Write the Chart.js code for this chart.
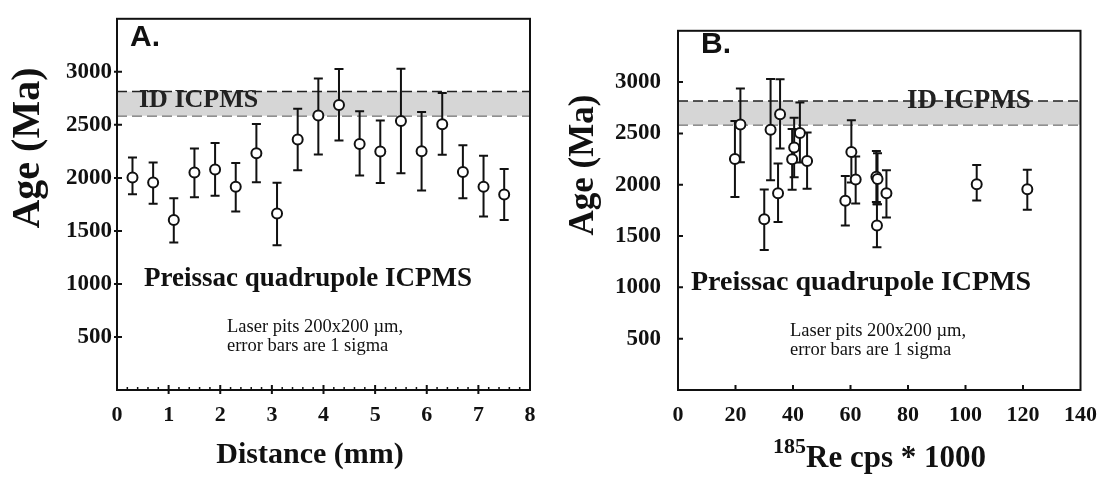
<!DOCTYPE html>
<html>
<head>
<meta charset="utf-8">
<script src="https://cdn.jsdelivr.net/npm/chart.js@4.4.1/dist/chart.umd.min.js"></script>
<style>
  html, body { margin: 0; padding: 0; background: #fff; }
  #wrap { position: relative; width: 1109px; height: 477px; }
  canvas { position: absolute; top: 0; }
  #chartA { left: 0; }
  #chartB { left: 560px; }
</style>
</head>
<body>
<div id="wrap">
  <canvas id="chartA" width="560" height="477"></canvas>
  <canvas id="chartB" width="549" height="477"></canvas>
</div>
<script>
// spot data (same 19 laser pits in both panels)
var distanceMm = [0.3, 0.7, 1.1, 1.5, 1.9, 2.3, 2.7, 3.1, 3.5, 3.9, 4.3, 4.7, 5.1, 5.5, 5.9, 6.3, 6.7, 7.1, 7.5];
var reCps = [103.9, 121.5, 69.2, 61.8, 69.0, 72.5, 44.9, 30.0, 40.4, 21.7, 35.5, 60.3, 39.7, 32.2, 19.8, 42.4, 69.4, 34.8, 58.2];
var ageMa = [2004, 1957, 1602, 2050, 2078, 1917, 2232, 1664, 2362, 2588, 2687, 2319, 2248, 2536, 2251, 2505, 2056, 1917, 1843];
var ageHigh = [2192, 2146, 1809, 2276, 2328, 2140, 2508, 1954, 2653, 2937, 3027, 2628, 2542, 3030, 2622, 2801, 2307, 2208, 2084];
var ageLow = [1846, 1756, 1391, 1818, 1831, 1682, 1960, 1364, 2072, 2220, 2353, 2022, 1951, 2044, 1880, 2217, 1809, 1636, 1602];

// ID ICPMS reference age band
var idBand = [2585, 2815];

// axis ranges / tick steps
var distRange = [0, 8, 1];
var reRange = [0, 140, 20];
var ageRange = [0, 3500, 500];

var SERIF = '"Liberation Serif", "Times New Roman", serif';
var SANS = '"Liberation Sans", Arial, sans-serif';
var INK = '#111';

function pairs(xs, ys) {
    return xs.map(function (x, i) { return { x: x, y: ys[i] }; });
}

var errorBars = {
    id: 'errorBars',
    beforeDatasetDraw: function (chart, args) {
        if (args.index !== 0) return;
        var ds = chart.data.datasets[0];
        var xs = chart.scales.x, ys = chart.scales.y;
        var ctx = chart.ctx;
        ctx.save();
        ctx.strokeStyle = INK;
        ctx.lineWidth = 2;
        ds.data.forEach(function (p, i) {
            var px = xs.getPixelForValue(p.x);
            var top = ys.getPixelForValue(ds.errHigh[i]);
            var bot = ys.getPixelForValue(ds.errLow[i]);
            ctx.beginPath();
            ctx.moveTo(px, top); ctx.lineTo(px, bot);
            ctx.moveTo(px - 4.5, top); ctx.lineTo(px + 4.5, top);
            ctx.moveTo(px - 4.5, bot); ctx.lineTo(px + 4.5, bot);
            ctx.stroke();
        });
        ctx.restore();
    }
};

// box + tick marks
function framePlugin(tk) {
    return {
        id: 'frame',
        afterDraw: function (chart) {
            var a = chart.chartArea, ctx = chart.ctx;
            var xs = chart.scales.x, ys = chart.scales.y;
            ctx.save();
            ctx.strokeStyle = INK;
            ctx.lineWidth = 2;
            ctx.strokeRect(a.left, a.top, a.right - a.left, a.bottom - a.top);
            ctx.beginPath();
            ys.ticks.forEach(function (t) {
                if (t.value <= ys.min || t.value >= ys.max) return;
                var py = ys.getPixelForValue(t.value);
                ctx.moveTo(a.left - tk.yOut, py); ctx.lineTo(a.left + tk.yIn, py);
            });
            xs.ticks.forEach(function (t) {
                if (t.value <= xs.min || t.value >= xs.max) return;
                var px = xs.getPixelForValue(t.value);
                ctx.moveTo(px, a.bottom + tk.xOut); ctx.lineTo(px, a.bottom - tk.xIn);
            });
            ctx.stroke();
            if (tk.minor) {
                ctx.lineWidth = 1.5;
                ctx.beginPath();
                for (var v = xs.min + tk.minor; v < xs.max - 1e-6; v += tk.minor) {
                    if (Math.abs(v - Math.round(v)) < 1e-6) continue;
                    var mx = xs.getPixelForValue(v);
                    ctx.moveTo(mx, a.bottom); ctx.lineTo(mx, a.bottom - 3);
                }
                ctx.stroke();
            }
            ctx.restore();
        }
    };
}

function textPlugin(items) {
    return {
        id: 'texts',
        afterDraw: function (chart) {
            var ctx = chart.ctx;
            items.forEach(function (t) {
                ctx.save();
                ctx.font = t.f;
                ctx.fillStyle = t.c || INK;
                ctx.textAlign = t.align || 'left';
                ctx.textBaseline = t.rot ? 'middle' : 'alphabetic';
                ctx.translate(t.x, t.y);
                if (t.rot) ctx.rotate(t.rot);
                ctx.fillText(t.s, 0, 0);
                ctx.restore();
            });
        }
    };
}

function makeChart(id, xVals, xRange, o) {
    return new Chart(document.getElementById(id), {
        type: 'line',
        data: {
            datasets: [{
                label: 'Age',
                data: pairs(xVals, ageMa),
                showLine: false,
                pointRadius: 5,
                pointBackgroundColor: '#fff',
                pointBorderColor: INK,
                pointBorderWidth: 2,
                errLow: ageLow,
                errHigh: ageHigh,
                order: 0
            },
            {
                label: 'ID high',
                data: [{ x: xRange[0], y: idBand[1] }, { x: xRange[1], y: idBand[1] }],
                borderColor: '#222',
                borderWidth: 1.5,
                borderDash: [10, 5],
                backgroundColor: '#d6d6d6',
                fill: '+1',
                pointRadius: 0,
                order: 1
            },
            {
                label: 'ID low',
                data: [{ x: xRange[0], y: idBand[0] }, { x: xRange[1], y: idBand[0] }],
                borderColor: '#222',
                borderWidth: 1.5,
                borderDash: [10, 5],
                fill: false,
                pointRadius: 0,
                order: 2
            }]
        },
        options: {
            responsive: false,
            animation: false,
            events: [],
            devicePixelRatio: 1,
            layout: { padding: { left: 0, right: o.right, top: o.top, bottom: 0 } },
            plugins: { legend: { display: false }, tooltip: { enabled: false } },
            scales: {
                x: {
                    type: 'linear',
                    min: xRange[0], max: xRange[1],
                    grid: { display: false, drawTicks: false },
                    border: { display: false },
                    ticks: { stepSize: xRange[2], font: { family: SERIF, size: 22, weight: 'bold' }, color: INK, padding: 12 },
                    afterFit: function (s) { s.height = 87; }
                },
                y: {
                    min: ageRange[0], max: ageRange[1],
                    grid: { display: false, drawTicks: false },
                    border: { display: false },
                    ticks: {
                        stepSize: ageRange[2], font: { family: SERIF, size: 23, weight: 'bold' }, color: INK, padding: o.yPad,
                        callback: function (v) { return (v <= ageRange[0] || v >= ageRange[1]) ? '' : String(v); }
                    },
                    afterFit: function (s) { s.width = o.left; }
                }
            }
        },
        plugins: [errorBars, framePlugin(o.ticks), textPlugin(o.texts)]
    });
}

var chartA = makeChart('chartA', distanceMm, distRange, {
    left: 117, right: 30, top: 13, yPad: 5,
    ticks: { yOut: 3, yIn: 5, xOut: 4, xIn: 5, minor: 0.2 },
    texts: [
        { s: 'A.', f: 'bold 30px ' + SANS, x: 130, y: 46 },
        { s: 'ID ICPMS', f: 'bold 26px ' + SERIF, x: 139, y: 107, c: '#222' },
        { s: 'Preissac quadrupole ICPMS', f: 'bold 27px ' + SERIF, x: 144, y: 286 },
        { s: 'Laser pits 200x200 \u00b5m,', f: '18.5px ' + SERIF, x: 227, y: 332 },
        { s: 'error bars are 1 sigma', f: '18.5px ' + SERIF, x: 227, y: 351 },
        { s: 'Distance (mm)', f: 'bold 30px ' + SERIF, x: 310, y: 463, align: 'center' },
        { s: 'Age (Ma)', f: 'bold 40px ' + SERIF, x: 29, y: 148, align: 'center', rot: -Math.PI / 2 }
    ]
});

var chartB = makeChart('chartB', reCps, reRange, {
    left: 118, right: 27, top: 12, yPad: 17,
    ticks: { yOut: 0, yIn: 5, xOut: 0, xIn: 5, minor: 0 },
    texts: [
        { s: 'B.', f: 'bold 30px ' + SANS, x: 141, y: 53 },
        { s: 'ID ICPMS', f: 'bold 27px ' + SERIF, x: 347, y: 108, c: '#222' },
        { s: 'Preissac quadrupole ICPMS', f: 'bold 28px ' + SERIF, x: 131, y: 290 },
        { s: 'Laser pits 200x200 \u00b5m,', f: '18.5px ' + SERIF, x: 230, y: 336 },
        { s: 'error bars are 1 sigma', f: '18.5px ' + SERIF, x: 230, y: 355 },
        { s: '185', f: 'bold 22px ' + SERIF, x: 213, y: 453 },
        { s: 'Re cps * 1000', f: 'bold 31px ' + SERIF, x: 246, y: 467 },
        { s: 'Age (Ma)', f: 'bold 35px ' + SERIF, x: 24, y: 165, align: 'center', rot: -Math.PI / 2 }
    ]
});
</script>
</body>
</html>
